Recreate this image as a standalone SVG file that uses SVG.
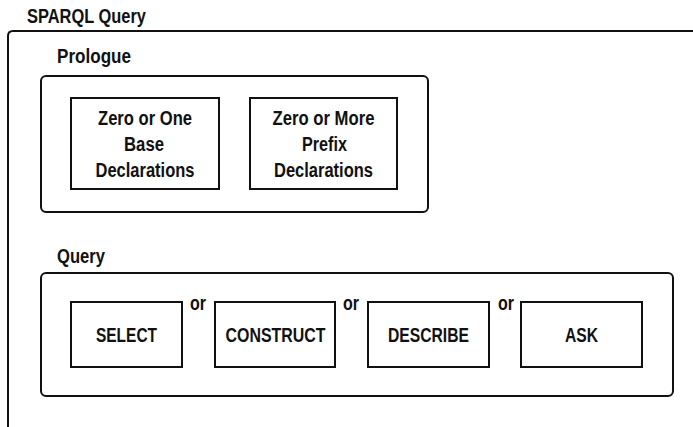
<svg xmlns="http://www.w3.org/2000/svg" width="693" height="427" viewBox="0 0 693 427">
<style>
text{font-family:"Liberation Sans",Arial,sans-serif;font-weight:bold;font-size:19.5px;fill:#111}
.c{text-anchor:middle}
.frame{fill:none;stroke:#111;stroke-width:2}
.box{fill:#fff;stroke:#111;stroke-width:2}
</style>
<rect width="693" height="427" fill="#fff"/>
<g id="sparql-query">
<path class="frame" d="M8,427 V36 Q8,31 13,31 H693"/>
<text x="27" y="23" textLength="119" lengthAdjust="spacingAndGlyphs">SPARQL Query</text>
</g>
<g id="prologue">
<rect class="box" x="41" y="76" width="387" height="136" rx="5"/>
<text x="57" y="63" textLength="74" lengthAdjust="spacingAndGlyphs">Prologue</text>
</g>
<g id="base-declarations">
<rect class="box" x="71" y="98" width="148" height="91"/>
<text class="c" x="145" y="125" textLength="94" lengthAdjust="spacingAndGlyphs">Zero or One</text>
<text class="c" x="144" y="151" textLength="40" lengthAdjust="spacingAndGlyphs">Base</text>
<text class="c" x="145" y="177" textLength="99" lengthAdjust="spacingAndGlyphs">Declarations</text>
</g>
<g id="prefix-declarations">
<rect class="box" x="250" y="98" width="147" height="91"/>
<text class="c" x="323.5" y="125" textLength="102" lengthAdjust="spacingAndGlyphs">Zero or More</text>
<text class="c" x="324.5" y="151" textLength="45" lengthAdjust="spacingAndGlyphs">Prefix</text>
<text class="c" x="323.5" y="177" textLength="99" lengthAdjust="spacingAndGlyphs">Declarations</text>
</g>
<g id="query">
<rect class="box" x="41" y="273" width="632" height="123" rx="5"/>
<text x="57" y="263" textLength="48" lengthAdjust="spacingAndGlyphs">Query</text>
</g>
<g id="select">
<rect class="box" x="71" y="302" width="111" height="65"/>
<text class="c" x="126.5" y="342" textLength="61" lengthAdjust="spacingAndGlyphs">SELECT</text>
</g>
<g id="construct">
<rect class="box" x="215" y="302" width="120" height="65"/>
<text class="c" x="275.5" y="342" textLength="100" lengthAdjust="spacingAndGlyphs">CONSTRUCT</text>
</g>
<g id="describe">
<rect class="box" x="368" y="302" width="121" height="65"/>
<text class="c" x="428.5" y="342" textLength="81" lengthAdjust="spacingAndGlyphs">DESCRIBE</text>
</g>
<g id="ask">
<rect class="box" x="521" y="302" width="121" height="65"/>
<text class="c" x="581.5" y="342" textLength="33" lengthAdjust="spacingAndGlyphs">ASK</text>
</g>
<g id="labels">
<text x="190" y="310" textLength="16" lengthAdjust="spacingAndGlyphs">or</text>
<text x="343" y="310" textLength="16" lengthAdjust="spacingAndGlyphs">or</text>
<text x="498" y="310" textLength="16" lengthAdjust="spacingAndGlyphs">or</text>
</g>
</svg>
